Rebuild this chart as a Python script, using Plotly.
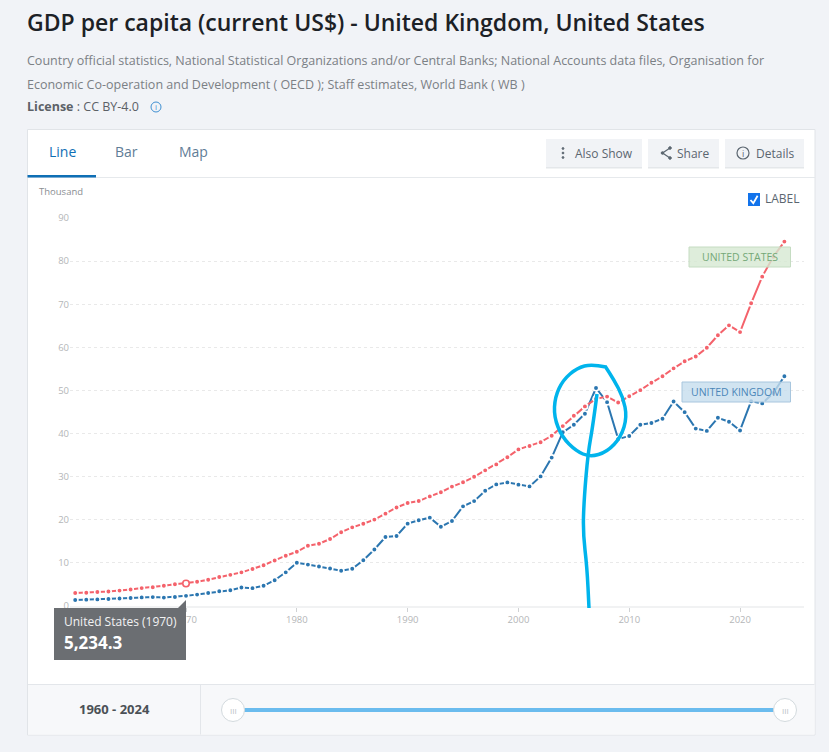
"""GDP per capita line chart (UK vs US) laid out like the World Bank data page."""
import plotly.graph_objects as go

WIDTH = 829
HEIGHT = 752

YEARS = list(range(1960, 2025))
US_GDP = [
    3.01, 3.07, 3.24, 3.37, 3.57, 3.83, 4.15, 4.34, 4.70, 5.03,
    5.2343, 5.61, 6.09, 6.73, 7.23, 7.80, 8.59, 9.45, 10.57, 11.67,
    12.58, 13.98, 14.43, 15.54, 17.12, 18.24, 19.07, 20.04, 21.42, 22.86,
    23.89, 24.34, 25.42, 26.39, 27.70, 28.69, 29.97, 31.46, 32.85, 34.52,
    36.33, 37.13, 38.00, 39.49, 41.73, 44.12, 46.30, 48.05, 48.57, 47.20,
    48.65, 50.07, 51.78, 53.29, 55.12, 56.76, 57.87, 59.92, 62.81, 65.10,
    63.53, 70.22, 76.40, 81.00, 84.53,
]
UK_GDP = [
    1.40, 1.47, 1.53, 1.61, 1.75, 1.87, 1.99, 2.06, 1.95, 2.10,
    2.35, 2.65, 3.03, 3.43, 3.67, 4.30, 4.14, 4.68, 5.98, 7.81,
    10.03, 9.60, 9.15, 8.69, 8.18, 8.65, 10.61, 13.12, 15.99, 16.24,
    19.10, 19.90, 20.49, 18.39, 19.71, 23.12, 24.33, 26.74, 28.21, 28.67,
    28.15, 27.74, 30.06, 34.42, 40.29, 42.03, 44.60, 50.57, 47.29, 38.71,
    39.44, 42.04, 42.46, 43.43, 47.44, 44.96, 41.15, 40.62, 43.65, 42.75,
    40.72, 47.50, 47.00, 49.40, 53.30,
]
X_TICKS = [1970, 1980, 1990, 2000, 2010, 2020]
HIGHLIGHT_YEAR = 1970

RED = '#f4626b'
BLUE = '#2b76b0'
CYAN = '#00b4ec'
GREY_TEXT = '#7b8085'
AXIS_TEXT = '#b4b6b8'


def px(x):
    return x / WIDTH


def py(y):
    return 1 - y / HEIGHT


def rect(x0, y0, x1, y1, fill, line=None, layer='below', width=1):
    return dict(type='rect', xref='paper', yref='paper', layer=layer,
                x0=px(x0), x1=px(x1), y0=py(y0), y1=py(y1), fillcolor=fill,
                line=dict(color=line or 'rgba(0,0,0,0)', width=width if line else 0))


def circle(cx, cy, r, fill, line, layer='below', width=1):
    return dict(type='circle', xref='paper', yref='paper', layer=layer,
                x0=px(cx - r), x1=px(cx + r), y0=py(cy - r), y1=py(cy + r),
                fillcolor=fill, line=dict(color=line, width=width))


def stroke(points, color, width, layer='above', fill='rgba(0,0,0,0)'):
    """Smooth freehand path through pixel points."""
    pts = [(px(x), py(y)) for x, y in points]
    path = f'M {pts[0][0]:.5f} {pts[0][1]:.5f}'
    for a, b in zip(pts[1:], pts[2:]):
        mid = ((a[0] + b[0]) / 2, (a[1] + b[1]) / 2)
        path += f' Q {a[0]:.5f} {a[1]:.5f} {mid[0]:.5f} {mid[1]:.5f}'
    path += f' L {pts[-1][0]:.5f} {pts[-1][1]:.5f}'
    return dict(type='path', xref='paper', yref='paper', layer=layer, path=path,
                fillcolor=fill, line=dict(color=color, width=width))


def text(x, y, s, size, color, anchor='left', weight=None):
    font = dict(family='Open Sans', size=size, color=color)
    if weight:
        font['weight'] = weight
    return dict(xref='paper', yref='paper', x=px(x), y=py(y), text=s, showarrow=False,
                xanchor=anchor, yanchor='middle', font=font, borderpad=0, borderwidth=0)


shapes = [
    # card, tabs, buttons
    rect(27.5, 129.5, 815, 735, '#ffffff', '#e1e4e8'),
    rect(27.5, 177, 815, 178, '#e6e9ec'),
    rect(27.5, 175, 96, 177.5, '#0f6fb5'),
    rect(546, 139, 642, 168, '#f1f3f6'),
    rect(648, 139, 719, 168, '#f1f3f6'),
    rect(725, 139, 804, 168, '#f1f3f6'),
    rect(546, 167, 642, 168.5, '#e4e7ea'),
    rect(648, 167, 719, 168.5, '#e4e7ea'),
    rect(725, 167, 804, 168.5, '#e4e7ea'),
    circle(563, 148.5, 0.9, '#5b6670', '#5b6670'),
    circle(563, 153, 0.9, '#5b6670', '#5b6670'),
    circle(563, 157.5, 0.9, '#5b6670', '#5b6670'),
    dict(type='path', xref='paper', yref='paper', layer='below',
         path=f'M {px(670)} {py(148)} L {px(662.5)} {py(153)} L {px(670)} {py(158)}',
         line=dict(color='#5b6670', width=1.2)),
    circle(670, 148, 1.3, '#5b6670', '#5b6670'),
    circle(662.5, 153, 1.3, '#5b6670', '#5b6670'),
    circle(670, 158, 1.3, '#5b6670', '#5b6670'),
    circle(743, 153, 6, 'rgba(0,0,0,0)', '#5b6670', width=1.2),
    circle(156, 107, 5, 'rgba(0,0,0,0)', '#3f8fd2', width=1),
    # label checkbox
    rect(748, 193, 760, 206, '#1273eb'),
    dict(type='path', xref='paper', yref='paper', layer='below',
         path=f'M {px(750.5)} {py(200)} L {px(753.3)} {py(203.2)} L {px(757.6)} {py(195.8)}',
         line=dict(color='#ffffff', width=1.8)),
    # range footer
    rect(28, 684, 814.5, 734.5, '#f7f8fa'),
    rect(28, 684, 814.5, 685, '#e3e6ea'),
    rect(200, 685, 201, 734.5, '#e3e6ea'),
    rect(240, 708, 775, 712, '#6bbcee'),
    circle(233, 710, 11.5, '#ffffff', '#d3dade'),
    circle(785, 710, 11.5, '#ffffff', '#d3dade'),
    # series labels and tooltip sit over the lines
    rect(689, 247, 790.5, 267, 'rgba(214,232,210,0.8)', '#c5dcc2', layer='above'),
    rect(682, 382, 790.5, 402, 'rgba(198,221,238,0.8)', '#a8c6de', layer='above'),
    rect(54, 608, 186, 660, '#6b6e72', layer='above'),
    dict(type='path', xref='paper', yref='paper', layer='above',
         path=f'M {px(178)} {py(608)} L {px(186)} {py(600)} L {px(186)} {py(608)} Z',
         fillcolor='#6b6e72', line=dict(width=0)),
    # hand-drawn marks on top of the screenshot
    stroke([(606, 367), (592, 364), (577, 368), (563, 380), (555, 397), (554, 417), (562, 437),
            (576, 451), (590, 457), (607, 452), (621, 437), (627, 417), (623, 397), (614, 380),
            (605, 366)], CYAN, 3.5),
    stroke([(597, 394), (593, 425), (588, 453), (584, 500), (583, 533), (587, 567), (589, 608)],
           CYAN, 3.5),
]

annotations = [
    text(27, 22, 'GDP per capita (current US$) - United Kingdom, United States', 23, '#1c2126', weight=600),
    text(27, 61, 'Country official statistics, National Statistical Organizations and/or Central Banks; '
                 'National Accounts data files, Organisation for', 12.5, GREY_TEXT),
    text(27, 85, 'Economic Co-operation and Development ( OECD ); Staff estimates, World Bank ( WB )',
         12.5, GREY_TEXT),
    text(27, 107, '<b>License</b> : CC BY-4.0', 12.5, '#5c6167'),
    text(156, 107, 'i', 8, '#3f8fd2', 'center'),
    text(62, 151, 'Line', 14, '#0f6fb5', 'center'),
    text(127, 151, 'Bar', 14, '#5f7d96', 'center'),
    text(193, 151, 'Map', 14, '#5f7d96', 'center'),
    text(575, 153, 'Also Show', 12, '#5b6670'),
    text(677, 153, 'Share', 12, '#5b6670'),
    text(756, 153, 'Details', 12, '#5b6670'),
    text(743, 153, 'i', 9, '#5b6670', 'center'),
    text(39, 192, 'Thousand', 9.5, '#8a8e92'),
    text(765, 198.5, 'LABEL', 12, '#5b6670'),
    text(739.5, 257, 'UNITED STATES', 10.5, '#74a877', 'center'),
    text(736, 392, 'UNITED KINGDOM', 10.5, '#4a86b8', 'center'),
    text(64, 621, f'United States ({HIGHLIGHT_YEAR})', 12, '#f2f2f2'),
    text(64, 642, f'{US_GDP[YEARS.index(HIGHLIGHT_YEAR)] * 1000:,.1f}', 17, '#ffffff', weight=700),
    text(114, 709, '1960 - 2024', 13, '#4b5156', 'center', weight=700),
    text(233, 710, 'III', 8, '#b9c0c5', 'center'),
    text(785, 710, 'III', 8, '#b9c0c5', 'center'),
]

fig = go.Figure()
for name, values, color in [('United Kingdom', UK_GDP, BLUE), ('United States', US_GDP, RED)]:
    fig.add_trace(go.Scatter(
        x=YEARS, y=values, name=name, mode='lines+markers',
        line=dict(color=color, width=2),
        marker=dict(color=color, size=5.5, line=dict(color='#ffffff', width=1.6)),
        hoverinfo='skip', showlegend=False,
    ))
fig.add_trace(go.Scatter(
    x=[HIGHLIGHT_YEAR], y=[US_GDP[YEARS.index(HIGHLIGHT_YEAR)]], mode='markers',
    marker=dict(color='#ffffff', size=6.5, line=dict(color=RED, width=1.6)),
    hoverinfo='skip', showlegend=False,
))

fig.update_layout(
    width=WIDTH, height=HEIGHT, margin=dict(l=0, r=0, t=0, b=0, pad=0), autosize=False,
    paper_bgcolor='#f1f3f7', plot_bgcolor='rgba(0,0,0,0)', font=dict(family='Open Sans'),
    shapes=shapes, annotations=annotations, showlegend=False,
    xaxis=dict(
        domain=[px(70), px(804)], range=[1959.53, 2025.77], tickvals=X_TICKS, automargin=False,
        showgrid=False, zeroline=False, showline=True, linecolor='#f1f2f3', linewidth=2,
        ticks='outside', ticklen=4, tickwidth=1, tickcolor='#d0d2d4',
        tickfont=dict(size=9.5, color=AXIS_TEXT),
    ),
    yaxis=dict(
        domain=[py(606), py(218)], range=[0, 90], dtick=10, automargin=False,
        showgrid=True, gridcolor='#e9e9e9', griddash='3px,3px', gridwidth=1,
        zeroline=False, showline=False, ticks='', tickfont=dict(size=9.5, color=AXIS_TEXT),
    ),
)

fig.write_html("out.html", config=dict(displayModeBar=False),
               post_script="document.body.style.margin='0';document.body.style.overflow='hidden';")
